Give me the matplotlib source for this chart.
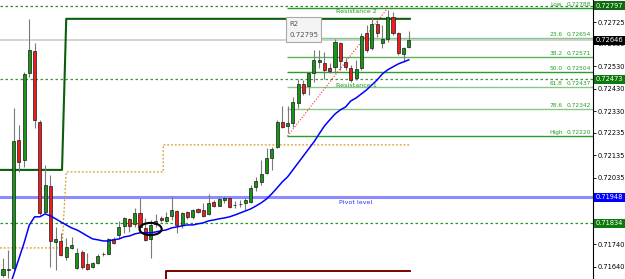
import matplotlib
matplotlib.use('Agg')
import matplotlib.pyplot as plt
import numpy as np
from matplotlib.patches import Ellipse, Rectangle
import matplotlib.transforms as mtransforms

# ---------------- data ----------------
opens = [0.71604, 0.71626, 0.71635, 0.72203, 0.72114, 0.72500, 0.72598, 0.72283, 0.71884, 0.71999,
         0.71751, 0.71755, 0.71684, 0.71724, 0.71635, 0.71706, 0.71653, 0.71640, 0.71658, 0.71695,
         0.71697, 0.71764, 0.71782, 0.71822, 0.71853, 0.71831, 0.71879, 0.71813, 0.71764, 0.71831,
         0.71857, 0.71844, 0.71866, 0.71888, 0.71826, 0.71884, 0.71862, 0.71897, 0.71893, 0.71875,
         0.71928, 0.71910, 0.71937, 0.71946, 0.71915, 0.71919, 0.71924, 0.71928, 0.71995, 0.72017,
         0.72057, 0.72123, 0.72172, 0.72283, 0.72265, 0.72278, 0.72367, 0.72451, 0.72443, 0.72500,
         0.72549, 0.72545, 0.72522, 0.72527, 0.72633, 0.72549, 0.72522, 0.72478, 0.72522, 0.72678,
         0.72611, 0.72718, 0.72633, 0.72651, 0.72749, 0.72678, 0.72584, 0.72616]
closes = [0.71631, 0.71631, 0.72199, 0.72105, 0.72496, 0.72602, 0.72292, 0.71879, 0.72003, 0.71755,
          0.71764, 0.71693, 0.71729, 0.71737, 0.71702, 0.71640, 0.71631, 0.71658, 0.71689, 0.71697,
          0.71764, 0.71746, 0.71817, 0.71857, 0.71822, 0.71879, 0.71817, 0.71760, 0.71826, 0.71844,
          0.71848, 0.71862, 0.71893, 0.71826, 0.71879, 0.71862, 0.71893, 0.71884, 0.71866, 0.71924,
          0.71910, 0.71941, 0.71946, 0.71906, 0.71916, 0.71920, 0.71937, 0.71990, 0.72021, 0.72052,
          0.72123, 0.72163, 0.72283, 0.72261, 0.72278, 0.72372, 0.72451, 0.72411, 0.72500, 0.72558,
          0.72558, 0.72514, 0.72509, 0.72638, 0.72553, 0.72527, 0.72469, 0.72518, 0.72664, 0.72602,
          0.72718, 0.72678, 0.72651, 0.72749, 0.72678, 0.72589, 0.72611, 0.72646]
highs = [0.71680, 0.71715, 0.72345, 0.72270, 0.72505, 0.72740, 0.72633, 0.72292, 0.72092, 0.72048,
         0.71817, 0.71791, 0.71768, 0.71773, 0.71724, 0.71715, 0.71702, 0.71662, 0.71697, 0.71706,
         0.71768, 0.71773, 0.71844, 0.71862, 0.71857, 0.71902, 0.71946, 0.71857, 0.71848, 0.71875,
         0.71866, 0.71884, 0.71955, 0.71893, 0.71884, 0.71888, 0.71897, 0.71902, 0.71924, 0.71964,
         0.71937, 0.71950, 0.71950, 0.71950, 0.71933, 0.71937, 0.71946, 0.72003, 0.72039, 0.72114,
         0.72168, 0.72172, 0.72292, 0.72354, 0.72354, 0.72394, 0.72474, 0.72469, 0.72505, 0.72602,
         0.72602, 0.72593, 0.72545, 0.72651, 0.72638, 0.72567, 0.72536, 0.72558, 0.72678, 0.72713,
         0.72749, 0.72735, 0.72713, 0.72780, 0.72771, 0.72682, 0.72616, 0.72686]
lows = [0.71595, 0.71591, 0.71626, 0.72061, 0.72083, 0.72482, 0.72256, 0.71870, 0.71879, 0.71640,
        0.71626, 0.71689, 0.71671, 0.71720, 0.71631, 0.71631, 0.71626, 0.71635, 0.71653, 0.71689,
        0.71695, 0.71742, 0.71764, 0.71791, 0.71795, 0.71817, 0.71804, 0.71755, 0.71680, 0.71817,
        0.71839, 0.71839, 0.71848, 0.71791, 0.71813, 0.71853, 0.71853, 0.71879, 0.71862, 0.71870,
        0.71906, 0.71908, 0.71924, 0.71902, 0.71902, 0.71906, 0.71893, 0.71924, 0.71977, 0.72003,
        0.72052, 0.72070, 0.72168, 0.72256, 0.72234, 0.72261, 0.72345, 0.72403, 0.72403, 0.72460,
        0.72522, 0.72474, 0.72500, 0.72500, 0.72514, 0.72514, 0.72460, 0.72469, 0.72514, 0.72593,
        0.72602, 0.72660, 0.72611, 0.72638, 0.72669, 0.72580, 0.72549, 0.72611]
ma = [np.nan, 0.71538, 0.71604, 0.71675, 0.71746, 0.71826, 0.71862, 0.71862, 0.71875, 0.71866,
      0.71853, 0.71839, 0.71826, 0.71813, 0.71804, 0.71791, 0.71777, 0.71764, 0.71760, 0.71755,
      0.71755, 0.71760, 0.71764, 0.71773, 0.71777, 0.71786, 0.71791, 0.71791, 0.71791, 0.71795,
      0.71800, 0.71804, 0.71813, 0.71817, 0.71822, 0.71826, 0.71826, 0.71831, 0.71835, 0.71844,
      0.71848, 0.71853, 0.71857, 0.71862, 0.71870, 0.71879, 0.71888, 0.71897, 0.71910, 0.71924,
      0.71941, 0.71964, 0.71990, 0.72017, 0.72039, 0.72070, 0.72101, 0.72132, 0.72163, 0.72194,
      0.72230, 0.72265, 0.72292, 0.72318, 0.72336, 0.72349, 0.72376, 0.72389, 0.72407, 0.72425,
      0.72447, 0.72469, 0.72496, 0.72514, 0.72527, 0.72540, 0.72549, 0.72558]

r2_level = 0.72795
r1_level = 0.72473
support_level = 0.71834
pivot_level = 0.71948
bid_price = 0.72646

fib_levels = [0.72788, 0.72654, 0.72571, 0.72504, 0.72437, 0.72342, 0.72220]
fib_names = ['Low', '23.6', '38.2', '50.0', '61.8', '78.6', 'High']
fib_anchor_bars = [54, 73]

green_step_levels = [0.72070, 0.72740]
green_step_bar = 12
orange_step_levels = [0.71724, 0.72061, 0.72181]
orange_step_bars = [12, 30.4]
red_level = 0.71622
red_start_bar = 31
marked_bar = 28

tick_values = [0.72725, 0.72630, 0.72530, 0.72430, 0.72330, 0.72235, 0.72135,
               0.72035, 0.71840, 0.71740, 0.71640]
price_boxes = [(0.72797, '#0d6b0d'), (0.72646, '#000000'), (0.72473, '#0d7a0d'),
               (0.71948, '#0000ff'), (0.71834, '#0d7a0d')]

# ---------------- figure ----------------
W, H = 625, 279
fig = plt.figure(figsize=(W / 100, H / 100), dpi=100)
axw = 593
ax = fig.add_axes([0, 0, axw / W, 1])
n = len(opens)
x = np.arange(n)
pxbar = 5.27
x0 = -3 / pxbar
x1 = (axw - 3) / pxbar
ax.set_xlim(x0, x1)
ax.set_ylim(0.715862, 0.728235)
xend = n - 0.8

for s in ['top', 'left', 'bottom']:
    ax.spines[s].set_visible(False)
ax.spines['right'].set_color('black')
ax.spines['right'].set_linewidth(0.8)
ax.set_xticks([])
ax.yaxis.tick_right()
ax.set_yticks(tick_values)
ax.set_yticklabels(['%.5f' % v for v in tick_values])
ax.tick_params(axis='y', direction='out', length=2, width=0.6, pad=1, labelsize=4.8)

# horizontal levels
dot = (0, (2, 2))
ax.axhline(r2_level, color='#2e8b2e', ls=dot, lw=0.9, zorder=1)
ax.axhline(r1_level, color='#3c963c', ls=dot, lw=0.9, zorder=1)
ax.axhline(support_level, color='#1f9a1f', ls=dot, lw=0.9, zorder=1)
ax.axhline(pivot_level, color='#8c8cff', lw=2.2, zorder=1)
ax.axhline(bid_price, color='#cccccc', lw=1.2, zorder=1)

# fib
fib_colors = ['#2a9d2a', '#86c986', '#5ab45a', '#2a9d2a', '#86c986', '#86c986', '#2a9d2a']
ax.hlines(fib_levels, fib_anchor_bars[0] - 0.1, x1, colors=fib_colors, lw=1.0, zorder=1)
ax.plot(fib_anchor_bars, [fib_levels[-1], fib_levels[0]], color='#ff3030',
        ls=(0, (1, 1.6)), lw=0.8, zorder=2)
tb = mtransforms.blended_transform_factory(ax.transAxes, ax.transData)
for lv, nm in zip(fib_levels, fib_names):
    ax.annotate(nm, xy=(556 / axw, lv), xycoords=tb, xytext=(0, 1), textcoords='offset pixels',
                ha='center', va='bottom', fontsize=4.2, color='#2a9d2a')
    ax.annotate('%.5f' % lv, xy=(591 / axw, lv), xycoords=tb, xytext=(0, 1),
                textcoords='offset pixels', ha='right', va='bottom', fontsize=4.2, color='#2a9d2a')

# step lines
g0, g1 = green_step_levels
ax.plot([x0, green_step_bar - 0.8, green_step_bar, xend],
        [g0, g0, g1, g1], color='#0b5e0b', lw=1.5, zorder=1)
o0, o1, o2 = orange_step_levels
ob1, ob2 = orange_step_bars
ax.plot([x0, ob1 - 0.8, ob1, ob2, ob2, xend], [o0, o0, o1, o1, o2, o2],
        color='#d49a2a', ls=(0, (1.5, 1.5)), lw=0.9, zorder=1)
ax.plot([red_start_bar, red_start_bar, xend], [0.7150, red_level, red_level],
        color='#7a0000', lw=1.4, zorder=1)

# candles
o = np.array(opens); c = np.array(closes); h = np.array(highs); l = np.array(lows)
up = c >= o
ax.vlines(x, l, h, color='#7a7a7a', lw=0.8, zorder=3)
bw = 0.58
ax.bar(x[up], (c - o)[up], bottom=o[up], width=bw, color='#159615', edgecolor='#1a1a1a',
       linewidth=0.5, zorder=3.5)
ax.bar(x[~up], (o - c)[~up], bottom=c[~up], width=bw, color='#ee1c1c', edgecolor='#1a1a1a',
       linewidth=0.5, zorder=3.5)

# moving average
ax.plot(x, ma, color='#0000ff', lw=1.1, zorder=4)

# ellipse mark
ax.add_patch(Ellipse((marked_bar, (o[marked_bar] + c[marked_bar + 1]) / 2 + 0.00004), 4.2, 0.00054,
                     facecolor='none', edgecolor='black', lw=1.5, zorder=5))

# level labels
lab_bar = 67
ax.annotate('Resistance 2', xy=(lab_bar, r2_level), xytext=(0, -5.5), textcoords='offset pixels',
            ha='center', va='center', fontsize=4.6, color='#2a8f2a', zorder=5)
ax.annotate('Resistance 1', xy=(lab_bar, r1_level), xytext=(0, -6), textcoords='offset pixels',
            ha='center', va='center', fontsize=4.6, color='#2a8f2a', zorder=5)
ax.annotate('Pivot level', xy=(lab_bar, pivot_level), xytext=(0, -5), textcoords='offset pixels',
            ha='center', va='center', fontsize=4.6, color='#2f2fff', zorder=5)

# R2 tooltip
ax.add_patch(Rectangle((286 / axw, 1 - 42 / H), 35 / axw, 25 / H, transform=ax.transAxes,
                       facecolor='#f4f4f4', edgecolor='#a8a8a8', lw=0.8, zorder=6))
ax.text(289 / axw, 1 - 24 / H, 'R2', transform=ax.transAxes, fontsize=5, color='#555555',
        va='center', ha='left', zorder=7)
ax.text(289 / axw, 1 - 35 / H, '%.5f' % r2_level, transform=ax.transAxes, fontsize=5,
        color='#555555', va='center', ha='left', zorder=7)

# right price boxes
tf = mtransforms.blended_transform_factory(fig.transFigure, ax.transData)
for val, bg in price_boxes:
    ax.add_patch(Rectangle((594 / W, val - 0.0002), 31 / W, 0.0004, transform=tf,
                           facecolor=bg, edgecolor='none', clip_on=False, zorder=8))
    ax.text(596 / W, val, '%.5f' % val, transform=tf, fontsize=4.8, color='white',
            va='center', ha='left', clip_on=False, zorder=9)

fig.savefig('out.png', dpi=100)
